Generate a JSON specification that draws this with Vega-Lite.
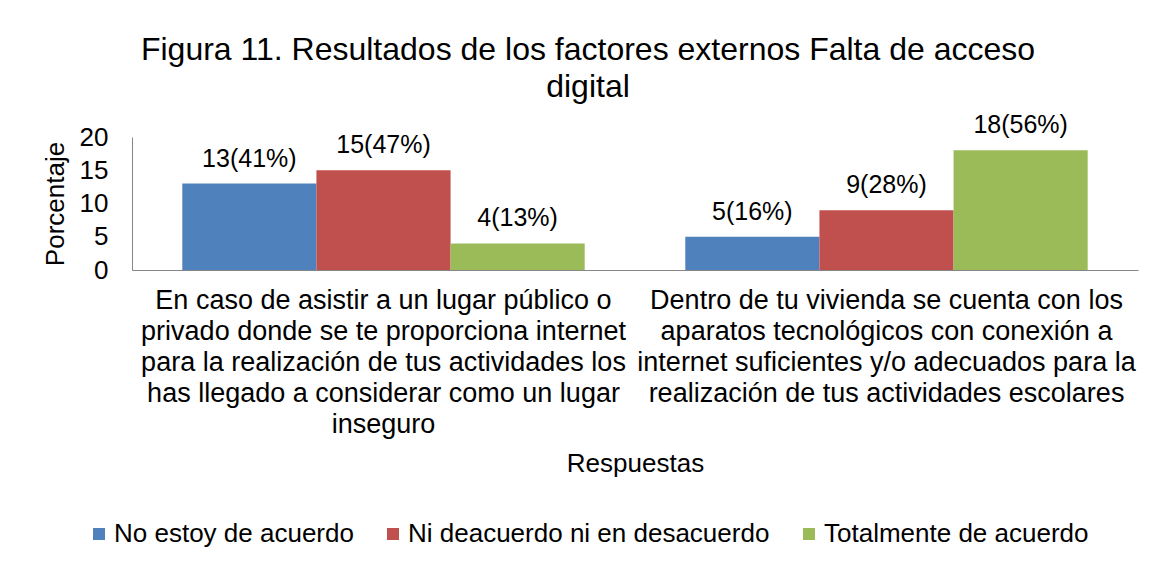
{
  "$schema": "https://vega.github.io/schema/vega-lite/v6.json",
  "width": 1006,
  "height": 133,
  "autosize": {"type": "none"},
  "padding": {"left": 132, "top": 137, "right": 16, "bottom": 297},
  "background": "white",
  "config": {
    "font": "Liberation Sans",
    "view": {"stroke": null},
    "axis": {"grid": false, "ticks": false, "domainColor": "#868686", "labelColor": "black", "titleColor": "black", "titleFontWeight": "normal", "labelFont": "Liberation Sans", "titleFont": "Liberation Sans"}
  },
  "title": {
    "text": ["Figura 11. Resultados de los factores externos Falta de acceso", "digital"],
    "fontSize": 32,
    "fontWeight": "normal",
    "color": "black",
    "lineHeight": 37,
    "anchor": "middle",
    "dx": -47,
    "offset": 9
  },
  "data": {
    "values": [
      {"categoria": "En caso de asistir a un lugar público o|privado donde se te proporciona internet|para la realización de tus actividades los|has llegado a considerar como un lugar|inseguro", "respuesta": "No estoy de acuerdo", "n": 13, "etiqueta": "13(41%)"},
      {"categoria": "En caso de asistir a un lugar público o|privado donde se te proporciona internet|para la realización de tus actividades los|has llegado a considerar como un lugar|inseguro", "respuesta": "Ni deacuerdo ni en desacuerdo", "n": 15, "etiqueta": "15(47%)"},
      {"categoria": "En caso de asistir a un lugar público o|privado donde se te proporciona internet|para la realización de tus actividades los|has llegado a considerar como un lugar|inseguro", "respuesta": "Totalmente de acuerdo", "n": 4, "etiqueta": "4(13%)"},
      {"categoria": "Dentro de  tu vivienda se cuenta con los|aparatos tecnológicos con conexión a|internet suficientes y/o  adecuados para la|realización de tus actividades escolares", "respuesta": "No estoy de acuerdo", "n": 5, "etiqueta": "5(16%)"},
      {"categoria": "Dentro de  tu vivienda se cuenta con los|aparatos tecnológicos con conexión a|internet suficientes y/o  adecuados para la|realización de tus actividades escolares", "respuesta": "Ni deacuerdo ni en desacuerdo", "n": 9, "etiqueta": "9(28%)"},
      {"categoria": "Dentro de  tu vivienda se cuenta con los|aparatos tecnológicos con conexión a|internet suficientes y/o  adecuados para la|realización de tus actividades escolares", "respuesta": "Totalmente de acuerdo", "n": 18, "etiqueta": "18(56%)"}
    ]
  },
  "encoding": {
    "x": {
      "field": "categoria",
      "type": "nominal",
      "sort": null,
      "scale": {"paddingInner": 0.2, "paddingOuter": 0.1},
      "axis": {
        "title": "Respuestas",
        "titleFontSize": 26,
        "titlePadding": 13,
        "labelAngle": 0,
        "labelFontSize": 27,
        "labelLineHeight": 31,
        "labelPadding": 17,
        "labelLimit": 0,
        "labelExpr": "split(datum.label, '|')"
      }
    },
    "xOffset": {
      "field": "respuesta",
      "type": "nominal",
      "sort": ["No estoy de acuerdo", "Ni deacuerdo ni en desacuerdo", "Totalmente de acuerdo"],
      "scale": {"paddingInner": 0, "paddingOuter": 0}
    },
    "y": {
      "field": "n",
      "type": "quantitative",
      "scale": {"domain": [0, 20], "nice": false},
      "axis": {
        "title": "Porcentaje",
        "titleFontSize": 26,
        "titlePadding": 11,
        "values": [0, 5, 10, 15, 20],
        "labelFontSize": 26,
        "labelPadding": 24
      }
    }
  },
  "layer": [
    {
      "mark": {"type": "bar"},
      "encoding": {
        "color": {
          "field": "respuesta",
          "type": "nominal",
          "scale": {
            "domain": ["No estoy de acuerdo", "Ni deacuerdo ni en desacuerdo", "Totalmente de acuerdo"],
            "range": ["#4F81BD", "#C0504D", "#9BBB59"]
          },
          "legend": {
            "title": null,
            "orient": "none",
            "legendX": -46,
            "legendY": 384,
            "direction": "horizontal",
            "columns": 3,
            "symbolType": "square",
            "symbolSize": 144,
            "symbolStrokeWidth": 0,
            "symbolOpacity": 1,
            "labelFontSize": 26,
            "labelColor": "black",
            "labelOffset": 2,
            "columnPadding": 26,
            "labelLimit": 0
          }
        }
      }
    },
    {
      "mark": {"type": "text", "baseline": "bottom", "dy": -12, "fontSize": 25, "color": "black"},
      "encoding": {"text": {"field": "etiqueta"}}
    }
  ]
}
